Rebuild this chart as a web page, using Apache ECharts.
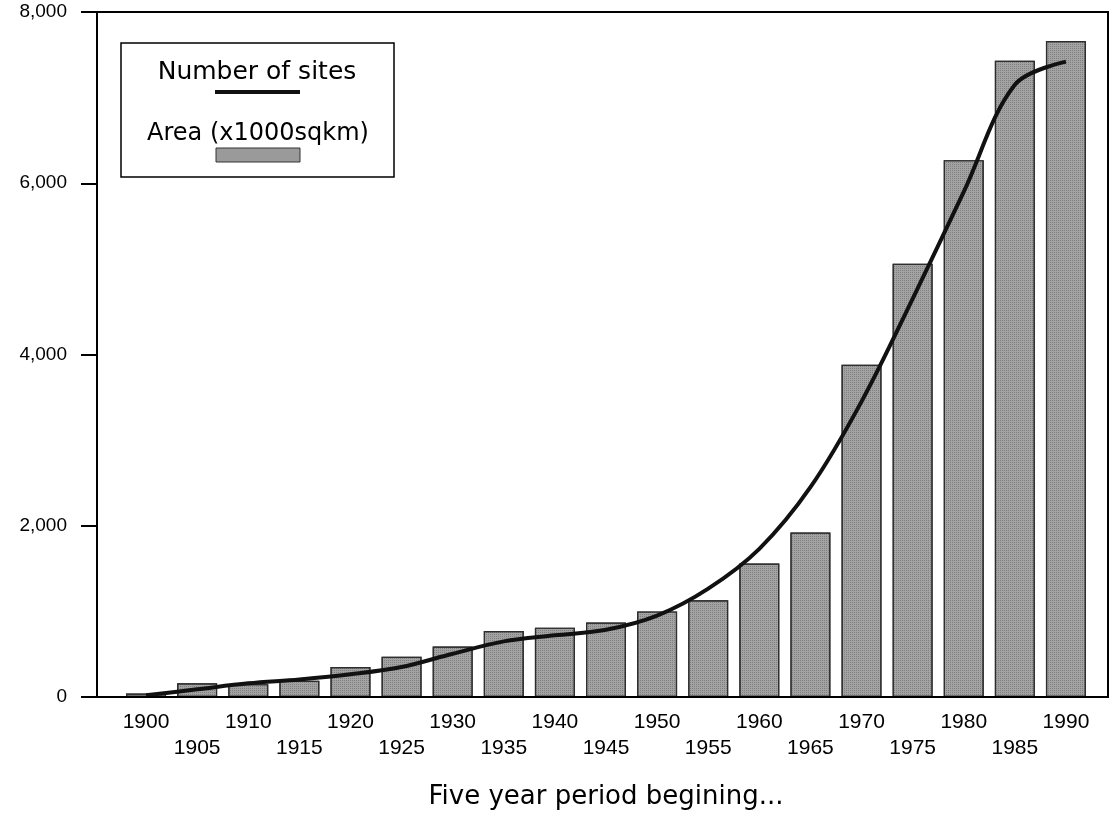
<!DOCTYPE html>
<html>
<head>
<meta charset="utf-8">
<script src="https://cdn.jsdelivr.net/npm/echarts@6/dist/echarts.min.js"></script>
<style>html,body{margin:0;padding:0;background:#fff;}#c{width:1113px;height:827px;}</style>
</head>
<body>
<div id="c"></div>
<script>
const periods = ['1900','1905','1910','1915','1920','1925','1930','1935','1940','1945','1950','1955','1960','1965','1970','1975','1980','1985','1990'];
const areaValues = [40,160,150,190,350,470,590,770,810,870,1000,1130,1560,1920,3880,5060,6270,7430,7660];
const siteValues = [20,90,160,205,265,350,505,650,720,785,950,1265,1730,2450,3450,4650,5900,7150,7420];
const yTicks = [0,2000,4000,6000,8000];

const FONT = '"Liberation Sans", Arial, sans-serif';
const WIDE = '"DejaVu Sans", Verdana, sans-serif';
function fmt(v){ return String(v).replace(/\B(?=(\d{3})+(?!\d))/g, ','); }

const chart = echarts.init(document.getElementById('c'), null, {renderer:'canvas'});
chart.setOption({
  backgroundColor: '#fff',
  animation: false,
  aria: { enabled: true, decal: { show: true } },
  grid: { left: 120.5, right: 21.5, top: 12, bottom: 130 },
  xAxis: {
    type: 'category',
    data: periods,
    boundaryGap: true,
    axisLine: { show: true, lineStyle: { color: '#000', width: 2 } },
    axisTick: { show: false },
    axisLabel: {
      interval: 0, margin: 12, color: '#000', fontFamily: FONT, fontSize: 21, lineHeight: 26,
      formatter: function (v, i) { return i % 2 === 1 ? '\n' + v : v; }
    },
    name: 'Five year period begining...',
    nameLocation: 'middle', nameGap: 87,
    nameTextStyle: { color: '#000', fontFamily: WIDE, fontSize: 26 }
  },
  yAxis: {
    type: 'value', min: yTicks[0], max: yTicks[yTicks.length-1], interval: 2000,
    offset: 23.5,
    axisLine: { show: true, lineStyle: { color: '#000', width: 2 } },
    axisTick: { show: true, length: 16, lineStyle: { color: '#000', width: 2 } },
    axisLabel: { margin: 30, color: '#000', fontFamily: FONT, fontSize: 19, formatter: fmt },
    splitLine: { show: false }
  },
  series: [
    {
      name: 'Area (x1000sqkm)', type: 'bar', data: areaValues, barWidth: 40,
      itemStyle: {
        color: '#a3a3a3', borderColor: '#2e2e2e', borderWidth: 1.2,
        decal: { symbol: 'rect', symbolSize: 1, color: 'rgba(0,0,0,0.22)', dashArrayX: [1, 1], dashArrayY: [1, 1], rotation: 0 }
      },
      z: 2
    },
    {
      name: 'Number of sites', type: 'line', data: siteValues, smooth: 0.35,
      showSymbol: false, symbol: 'none',
      lineStyle: { color: '#111', width: 4 },
      z: 5
    }
  ],
  graphic: [
    { type: 'rect', z: 10, silent: true, shape: { x: 97, y: 12, width: 1011, height: 685 },
      style: { fill: 'none', stroke: '#000', lineWidth: 2 } },
    { type: 'rect', z: 10, shape: { x: 121, y: 43, width: 273, height: 134 },
      style: { fill: '#fff', stroke: '#000', lineWidth: 1.5 } },
    { type: 'text', z: 11, x: 257, y: 72,
      style: { text: 'Number of sites', fill: '#000', font: '25px ' + WIDE, textAlign: 'center', textVerticalAlign: 'middle' } },
    { type: 'line', z: 11, shape: { x1: 215, y1: 92, x2: 300, y2: 92 },
      style: { stroke: '#111', lineWidth: 4 } },
    { type: 'text', z: 11, x: 258, y: 134,
      style: { text: 'Area (x1000sqkm)', fill: '#000', font: '24px ' + WIDE, textAlign: 'center', textVerticalAlign: 'middle' } },
    { type: 'rect', z: 11, shape: { x: 216, y: 148, width: 84, height: 14 },
      style: { fill: '#9a9a9a', stroke: '#333', lineWidth: 1 } }
  ]
});
</script>
</body>
</html>
